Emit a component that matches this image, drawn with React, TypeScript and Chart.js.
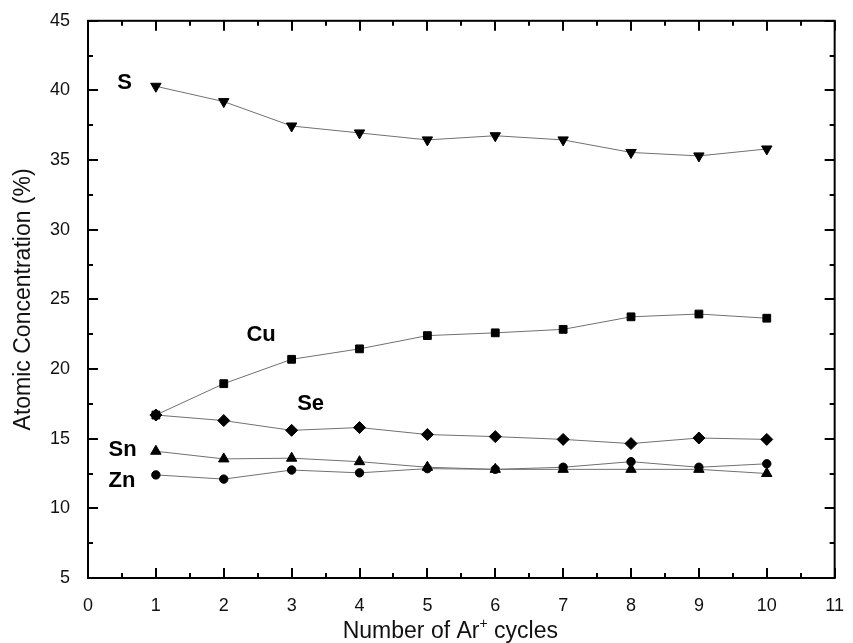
import React, { useEffect, useRef } from "react";
import { Chart, registerables } from "chart.js";

Chart.register(...registerables);

// ---- data ----
const cycles = [1, 2, 3, 4, 5, 6, 7, 8, 9, 10];
const sValues = [40.3, 39.2, 37.45, 36.95, 36.45, 36.75, 36.45, 35.55, 35.3, 35.8];
const cuValues = [16.7, 18.95, 20.7, 21.45, 22.4, 22.6, 22.85, 23.75, 23.95, 23.65];
const seValues = [16.7, 16.3, 15.6, 15.8, 15.3, 15.15, 14.95, 14.65, 15.05, 14.95];
const snValues = [14.1, 13.55, 13.6, 13.35, 12.95, 12.8, 12.8, 12.8, 12.8, 12.5];
const znValues = [12.4, 12.1, 12.75, 12.55, 12.85, 12.8, 12.95, 13.35, 12.95, 13.2];

const seriesNames = ["S", "Cu", "Se", "Sn", "Zn"];
// label anchor positions in data coordinates
const labelX = [0.54, 2.55, 3.28, 0.51, 0.5];
const labelY = [40.52, 22.47, 17.46, 14.16, 11.94];

const xMin = 0;
const xMax = 11;
const xStep = 1;
const yMin = 5;
const yMax = 45;
const yStep = 5;

const xTitleMain = "Number of Ar";
const xTitleSup = "+";
const xTitleTail = " cycles";
const yTitle = "Atomic Concentration (%)";

const FONT = "'Liberation Sans', Arial, Helvetica, sans-serif";

const toPoints = (vals: number[]) => cycles.map((c, i) => ({ x: c, y: vals[i] }));

const framePlugin = {
  id: "frameTicks",
  afterDatasetsDraw(chart: any) {
    const { ctx, chartArea: a, scales } = chart;
    const x = scales.x;
    const y = scales.y;
    ctx.save();
    // frame
    ctx.strokeStyle = "#000";
    ctx.lineWidth = 2;
    ctx.strokeRect(a.left, a.top, a.right - a.left, a.bottom - a.top);
    // ticks (inward, all four sides)
    ctx.beginPath();
    const xMinor = xStep / 2;
    for (let v = xMin; v <= xMax + 1e-9; v += xMinor) {
      const px = Math.round(x.getPixelForValue(v));
      const major = Math.abs(v / xStep - Math.round(v / xStep)) < 1e-6;
      const len = major ? 10 : 5;
      ctx.moveTo(px, a.bottom);
      ctx.lineTo(px, a.bottom - len);
      ctx.moveTo(px, a.top);
      ctx.lineTo(px, a.top + len);
    }
    const yMinor = yStep / 2;
    for (let v = yMin; v <= yMax + 1e-9; v += yMinor) {
      const py = Math.round(y.getPixelForValue(v));
      const major = Math.abs(v / yStep - Math.round(v / yStep)) < 1e-6;
      const len = major ? 10 : 5;
      ctx.moveTo(a.left, py);
      ctx.lineTo(a.left + len, py);
      ctx.moveTo(a.right, py);
      ctx.lineTo(a.right - len, py);
    }
    ctx.stroke();

    // series labels
    ctx.fillStyle = "#000";
    ctx.font = `bold 22px ${FONT}`;
    ctx.textAlign = "center";
    ctx.textBaseline = "middle";
    seriesNames.forEach((name, i) => {
      ctx.fillText(name, x.getPixelForValue(labelX[i]), y.getPixelForValue(labelY[i]));
    });

    // x axis title with superscript
    const mainFont = `23px ${FONT}`;
    const supFont = `14px ${FONT}`;
    ctx.font = mainFont;
    const w1 = ctx.measureText(xTitleMain).width;
    const w3 = ctx.measureText(xTitleTail).width;
    ctx.font = supFont;
    const w2 = ctx.measureText(xTitleSup).width;
    const total = w1 + w2 + w3;
    const cx = (a.left + a.right) / 2 - 11;
    const ty = a.bottom + 60;
    let sx = cx - total / 2;
    ctx.textAlign = "left";
    ctx.textBaseline = "alphabetic";
    ctx.fillStyle = "#111";
    ctx.font = mainFont;
    ctx.fillText(xTitleMain, sx, ty);
    sx += w1;
    ctx.font = supFont;
    ctx.fillText(xTitleSup, sx, ty - 10);
    sx += w2;
    ctx.font = mainFont;
    ctx.fillText(xTitleTail, sx, ty);
    ctx.restore();
  },
};

export default function App() {
  const canvasRef = useRef<HTMLCanvasElement | null>(null);

  useEffect(() => {
    const canvas = canvasRef.current;
    if (!canvas) return;
    const lineColor = "#707070";
    const common = {
      borderColor: lineColor,
      borderWidth: 1,
      pointBackgroundColor: "#000",
      pointBorderColor: "#000",
      pointBorderWidth: 1,
      showLine: true,
      tension: 0,
      fill: false,
    };
    const chart = new Chart(canvas, {
      type: "scatter",
      data: {
        datasets: [
          { ...common, label: "S", data: toPoints(sValues), pointStyle: "triangle", rotation: 180, pointRadius: 6 },
          { ...common, label: "Cu", data: toPoints(cuValues), pointStyle: "rect", pointRadius: 5.5 },
          { ...common, label: "Se", data: toPoints(seValues), pointStyle: "rectRot", pointRadius: 6 },
          { ...common, label: "Sn", data: toPoints(snValues), pointStyle: "triangle", pointRadius: 6 },
          { ...common, label: "Zn", data: toPoints(znValues), pointStyle: "circle", pointRadius: 4.2 },
        ] as any,
      },
      options: {
        animation: false,
        responsive: false,
        devicePixelRatio: 1,
        layout: { padding: { top: 19.5, right: 10, left: 0, bottom: 0 } },
        plugins: { legend: { display: false }, tooltip: { enabled: false } },
        scales: {
          x: {
            type: "linear",
            min: xMin,
            max: xMax,
            grid: { display: false },
            border: { display: false },
            ticks: {
              stepSize: xStep,
              padding: 9,
              color: "#111",
              font: { family: FONT, size: 18 },
              maxRotation: 0,
            },
            afterFit: (scale: any) => {
              scale.height = 65;
            },
          },
          y: {
            type: "linear",
            min: yMin,
            max: yMax,
            grid: { display: false },
            border: { display: false },
            ticks: {
              stepSize: yStep,
              padding: 10,
              color: "#111",
              font: { family: FONT, size: 18 },
            },
            title: {
              display: true,
              text: yTitle,
              color: "#111",
              font: { family: FONT, size: 23, lineHeight: 1.2 },
              padding: { top: 10, bottom: 0 },
            },
            afterFit: (scale: any) => {
              scale.width = 88;
            },
          },
        },
      } as any,
      plugins: [framePlugin],
    });
    return () => chart.destroy();
  }, []);

  return (
    <div style={{ position: "fixed", left: 0, top: 0, width: 853, height: 643, background: "#fff" }}>
      <canvas ref={canvasRef} width={853} height={643} style={{ display: "block" }} />
    </div>
  );
}
